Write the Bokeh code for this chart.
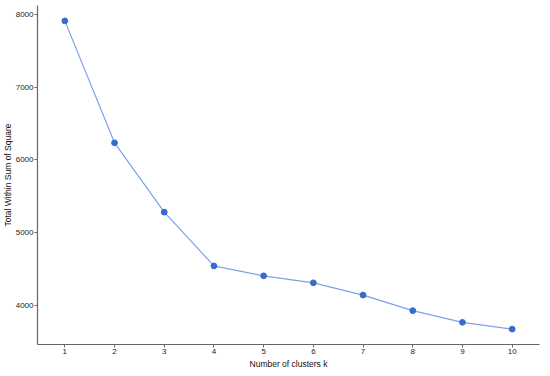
from bokeh.plotting import figure
from bokeh.models import Range1d, FixedTicker, Title
from bokeh.embed import file_html
from bokeh.resources import INLINE

k_values = [1, 2, 3, 4, 5, 6, 7, 8, 9, 10]
wss_values = [7907, 6235, 5284, 4547, 4411, 4315, 4147, 3933, 3773, 3680]
y_ticks = [4000, 5000, 6000, 7000, 8000]
x_title = "Number of clusters k"
y_title = "Total Within Sum of Square"

p = figure(width=542, height=368, output_backend="svg", toolbar_location=None,
           x_range=Range1d(0.45, 10.55), y_range=Range1d(3469, 8118),
           min_border_left=0, min_border_right=3, min_border_top=5, min_border_bottom=0)
p.outline_line_color = None
p.xgrid.visible = False
p.ygrid.visible = False

p.line(k_values, wss_values, line_color="#7BA3E8", line_width=1.2)
p.scatter(k_values, wss_values, size=5.8, fill_color="#3A6BC9", line_color="#3A6BC9")

for ax in (p.xaxis[0], p.yaxis[0]):
    ax.axis_line_color = "#666666"
    ax.axis_line_width = 1.2
    ax.major_tick_line_color = "#666666"
    ax.major_tick_out = 3
    ax.major_tick_in = 0
    ax.minor_tick_line_color = None
    ax.major_label_text_font = "Liberation Sans"
    ax.major_label_text_font_size = "8px"
    ax.major_label_text_color = "#222222"
    ax.major_label_standoff = 1

p.xaxis[0].ticker = FixedTicker(ticks=k_values)
p.yaxis[0].ticker = FixedTicker(ticks=y_ticks)

for text, place in ((x_title, "below"), (y_title, "left")):
    t = Title(text=text, align="center", text_font="Liberation Sans",
              text_font_size="8.5px", text_font_style="normal", text_color="#111111",
              standoff=0, offset=0, padding=0)
    p.add_layout(t, place)

open("out.html", "w").write(file_html(p, INLINE))
